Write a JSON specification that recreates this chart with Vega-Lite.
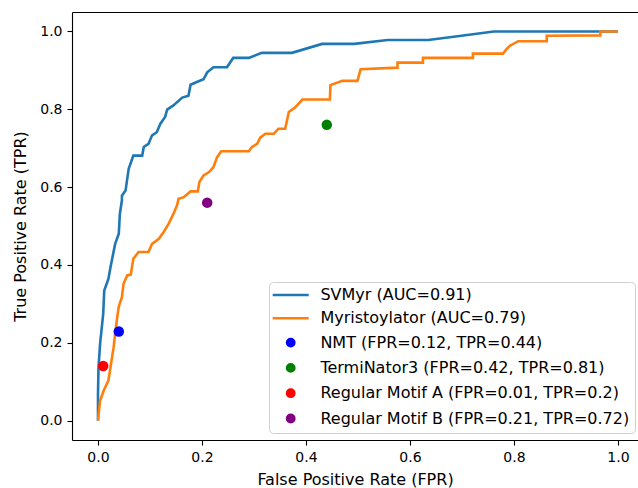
{
  "$schema": "https://vega.github.io/schema/vega-lite/v6.json",
  "width": 566,
  "height": 428,
  "autosize": {"type": "none"},
  "padding": {"left": 72, "top": 12, "right": 0, "bottom": 48},
  "background": "white",
  "datasets": {
    "curves": [
      {"label": "SVMyr (AUC=0.91)", "i": 0, "fpr": 0.0, "tpr": 0.0},
      {"label": "SVMyr (AUC=0.91)", "i": 1, "fpr": 0.0, "tpr": 0.069},
      {"label": "SVMyr (AUC=0.91)", "i": 2, "fpr": 0.001, "tpr": 0.137},
      {"label": "SVMyr (AUC=0.91)", "i": 3, "fpr": 0.004, "tpr": 0.197},
      {"label": "SVMyr (AUC=0.91)", "i": 4, "fpr": 0.010, "tpr": 0.274},
      {"label": "SVMyr (AUC=0.91)", "i": 5, "fpr": 0.012, "tpr": 0.334},
      {"label": "SVMyr (AUC=0.91)", "i": 6, "fpr": 0.020, "tpr": 0.364},
      {"label": "SVMyr (AUC=0.91)", "i": 7, "fpr": 0.024, "tpr": 0.394},
      {"label": "SVMyr (AUC=0.91)", "i": 8, "fpr": 0.033, "tpr": 0.454},
      {"label": "SVMyr (AUC=0.91)", "i": 9, "fpr": 0.040, "tpr": 0.480},
      {"label": "SVMyr (AUC=0.91)", "i": 10, "fpr": 0.042, "tpr": 0.531},
      {"label": "SVMyr (AUC=0.91)", "i": 11, "fpr": 0.046, "tpr": 0.566},
      {"label": "SVMyr (AUC=0.91)", "i": 12, "fpr": 0.046, "tpr": 0.578},
      {"label": "SVMyr (AUC=0.91)", "i": 13, "fpr": 0.053, "tpr": 0.591},
      {"label": "SVMyr (AUC=0.91)", "i": 14, "fpr": 0.059, "tpr": 0.647},
      {"label": "SVMyr (AUC=0.91)", "i": 15, "fpr": 0.068, "tpr": 0.681},
      {"label": "SVMyr (AUC=0.91)", "i": 16, "fpr": 0.085, "tpr": 0.681},
      {"label": "SVMyr (AUC=0.91)", "i": 17, "fpr": 0.088, "tpr": 0.703},
      {"label": "SVMyr (AUC=0.91)", "i": 18, "fpr": 0.097, "tpr": 0.711},
      {"label": "SVMyr (AUC=0.91)", "i": 19, "fpr": 0.104, "tpr": 0.733},
      {"label": "SVMyr (AUC=0.91)", "i": 20, "fpr": 0.113, "tpr": 0.741},
      {"label": "SVMyr (AUC=0.91)", "i": 21, "fpr": 0.120, "tpr": 0.763},
      {"label": "SVMyr (AUC=0.91)", "i": 22, "fpr": 0.129, "tpr": 0.780},
      {"label": "SVMyr (AUC=0.91)", "i": 23, "fpr": 0.133, "tpr": 0.799},
      {"label": "SVMyr (AUC=0.91)", "i": 24, "fpr": 0.145, "tpr": 0.810},
      {"label": "SVMyr (AUC=0.91)", "i": 25, "fpr": 0.162, "tpr": 0.830},
      {"label": "SVMyr (AUC=0.91)", "i": 26, "fpr": 0.174, "tpr": 0.835},
      {"label": "SVMyr (AUC=0.91)", "i": 27, "fpr": 0.178, "tpr": 0.863},
      {"label": "SVMyr (AUC=0.91)", "i": 28, "fpr": 0.190, "tpr": 0.870},
      {"label": "SVMyr (AUC=0.91)", "i": 29, "fpr": 0.203, "tpr": 0.877},
      {"label": "SVMyr (AUC=0.91)", "i": 30, "fpr": 0.210, "tpr": 0.895},
      {"label": "SVMyr (AUC=0.91)", "i": 31, "fpr": 0.222, "tpr": 0.908},
      {"label": "SVMyr (AUC=0.91)", "i": 32, "fpr": 0.248, "tpr": 0.908},
      {"label": "SVMyr (AUC=0.91)", "i": 33, "fpr": 0.260, "tpr": 0.932},
      {"label": "SVMyr (AUC=0.91)", "i": 34, "fpr": 0.290, "tpr": 0.932},
      {"label": "SVMyr (AUC=0.91)", "i": 35, "fpr": 0.315, "tpr": 0.945},
      {"label": "SVMyr (AUC=0.91)", "i": 36, "fpr": 0.373, "tpr": 0.945},
      {"label": "SVMyr (AUC=0.91)", "i": 37, "fpr": 0.431, "tpr": 0.968},
      {"label": "SVMyr (AUC=0.91)", "i": 38, "fpr": 0.493, "tpr": 0.968},
      {"label": "SVMyr (AUC=0.91)", "i": 39, "fpr": 0.557, "tpr": 0.978},
      {"label": "SVMyr (AUC=0.91)", "i": 40, "fpr": 0.635, "tpr": 0.978},
      {"label": "SVMyr (AUC=0.91)", "i": 41, "fpr": 0.699, "tpr": 0.989},
      {"label": "SVMyr (AUC=0.91)", "i": 42, "fpr": 0.761, "tpr": 1.0},
      {"label": "SVMyr (AUC=0.91)", "i": 43, "fpr": 1.0, "tpr": 1.0},
      {"label": "Myristoylator (AUC=0.79)", "i": 0, "fpr": 0.0, "tpr": 0.0},
      {"label": "Myristoylator (AUC=0.79)", "i": 1, "fpr": 0.004, "tpr": 0.051},
      {"label": "Myristoylator (AUC=0.79)", "i": 2, "fpr": 0.011, "tpr": 0.077},
      {"label": "Myristoylator (AUC=0.79)", "i": 3, "fpr": 0.020, "tpr": 0.103},
      {"label": "Myristoylator (AUC=0.79)", "i": 4, "fpr": 0.024, "tpr": 0.137},
      {"label": "Myristoylator (AUC=0.79)", "i": 5, "fpr": 0.030, "tpr": 0.188},
      {"label": "Myristoylator (AUC=0.79)", "i": 6, "fpr": 0.033, "tpr": 0.223},
      {"label": "Myristoylator (AUC=0.79)", "i": 7, "fpr": 0.037, "tpr": 0.266},
      {"label": "Myristoylator (AUC=0.79)", "i": 8, "fpr": 0.040, "tpr": 0.293},
      {"label": "Myristoylator (AUC=0.79)", "i": 9, "fpr": 0.046, "tpr": 0.317},
      {"label": "Myristoylator (AUC=0.79)", "i": 10, "fpr": 0.049, "tpr": 0.351},
      {"label": "Myristoylator (AUC=0.79)", "i": 11, "fpr": 0.056, "tpr": 0.373},
      {"label": "Myristoylator (AUC=0.79)", "i": 12, "fpr": 0.063, "tpr": 0.375},
      {"label": "Myristoylator (AUC=0.79)", "i": 13, "fpr": 0.068, "tpr": 0.416},
      {"label": "Myristoylator (AUC=0.79)", "i": 14, "fpr": 0.078, "tpr": 0.433},
      {"label": "Myristoylator (AUC=0.79)", "i": 15, "fpr": 0.097, "tpr": 0.433},
      {"label": "Myristoylator (AUC=0.79)", "i": 16, "fpr": 0.104, "tpr": 0.454},
      {"label": "Myristoylator (AUC=0.79)", "i": 17, "fpr": 0.117, "tpr": 0.467},
      {"label": "Myristoylator (AUC=0.79)", "i": 18, "fpr": 0.126, "tpr": 0.484},
      {"label": "Myristoylator (AUC=0.79)", "i": 19, "fpr": 0.136, "tpr": 0.506},
      {"label": "Myristoylator (AUC=0.79)", "i": 20, "fpr": 0.145, "tpr": 0.531},
      {"label": "Myristoylator (AUC=0.79)", "i": 21, "fpr": 0.152, "tpr": 0.553},
      {"label": "Myristoylator (AUC=0.79)", "i": 22, "fpr": 0.155, "tpr": 0.570},
      {"label": "Myristoylator (AUC=0.79)", "i": 23, "fpr": 0.165, "tpr": 0.574},
      {"label": "Myristoylator (AUC=0.79)", "i": 24, "fpr": 0.171, "tpr": 0.581},
      {"label": "Myristoylator (AUC=0.79)", "i": 25, "fpr": 0.178, "tpr": 0.589},
      {"label": "Myristoylator (AUC=0.79)", "i": 26, "fpr": 0.192, "tpr": 0.589},
      {"label": "Myristoylator (AUC=0.79)", "i": 27, "fpr": 0.195, "tpr": 0.613},
      {"label": "Myristoylator (AUC=0.79)", "i": 28, "fpr": 0.203, "tpr": 0.630},
      {"label": "Myristoylator (AUC=0.79)", "i": 29, "fpr": 0.213, "tpr": 0.638},
      {"label": "Myristoylator (AUC=0.79)", "i": 30, "fpr": 0.222, "tpr": 0.651},
      {"label": "Myristoylator (AUC=0.79)", "i": 31, "fpr": 0.229, "tpr": 0.677},
      {"label": "Myristoylator (AUC=0.79)", "i": 32, "fpr": 0.237, "tpr": 0.692},
      {"label": "Myristoylator (AUC=0.79)", "i": 33, "fpr": 0.290, "tpr": 0.692},
      {"label": "Myristoylator (AUC=0.79)", "i": 34, "fpr": 0.296, "tpr": 0.703},
      {"label": "Myristoylator (AUC=0.79)", "i": 35, "fpr": 0.306, "tpr": 0.711},
      {"label": "Myristoylator (AUC=0.79)", "i": 36, "fpr": 0.312, "tpr": 0.727},
      {"label": "Myristoylator (AUC=0.79)", "i": 37, "fpr": 0.322, "tpr": 0.737},
      {"label": "Myristoylator (AUC=0.79)", "i": 38, "fpr": 0.338, "tpr": 0.737},
      {"label": "Myristoylator (AUC=0.79)", "i": 39, "fpr": 0.347, "tpr": 0.750},
      {"label": "Myristoylator (AUC=0.79)", "i": 40, "fpr": 0.360, "tpr": 0.750},
      {"label": "Myristoylator (AUC=0.79)", "i": 41, "fpr": 0.367, "tpr": 0.793},
      {"label": "Myristoylator (AUC=0.79)", "i": 42, "fpr": 0.380, "tpr": 0.806},
      {"label": "Myristoylator (AUC=0.79)", "i": 43, "fpr": 0.393, "tpr": 0.825},
      {"label": "Myristoylator (AUC=0.79)", "i": 44, "fpr": 0.446, "tpr": 0.825},
      {"label": "Myristoylator (AUC=0.79)", "i": 45, "fpr": 0.447, "tpr": 0.862},
      {"label": "Myristoylator (AUC=0.79)", "i": 46, "fpr": 0.470, "tpr": 0.873},
      {"label": "Myristoylator (AUC=0.79)", "i": 47, "fpr": 0.499, "tpr": 0.873},
      {"label": "Myristoylator (AUC=0.79)", "i": 48, "fpr": 0.505, "tpr": 0.903},
      {"label": "Myristoylator (AUC=0.79)", "i": 49, "fpr": 0.576, "tpr": 0.907},
      {"label": "Myristoylator (AUC=0.79)", "i": 50, "fpr": 0.576, "tpr": 0.920},
      {"label": "Myristoylator (AUC=0.79)", "i": 51, "fpr": 0.625, "tpr": 0.920},
      {"label": "Myristoylator (AUC=0.79)", "i": 52, "fpr": 0.625, "tpr": 0.932},
      {"label": "Myristoylator (AUC=0.79)", "i": 53, "fpr": 0.721, "tpr": 0.932},
      {"label": "Myristoylator (AUC=0.79)", "i": 54, "fpr": 0.721, "tpr": 0.943},
      {"label": "Myristoylator (AUC=0.79)", "i": 55, "fpr": 0.779, "tpr": 0.943},
      {"label": "Myristoylator (AUC=0.79)", "i": 56, "fpr": 0.786, "tpr": 0.955},
      {"label": "Myristoylator (AUC=0.79)", "i": 57, "fpr": 0.792, "tpr": 0.963},
      {"label": "Myristoylator (AUC=0.79)", "i": 58, "fpr": 0.808, "tpr": 0.975},
      {"label": "Myristoylator (AUC=0.79)", "i": 59, "fpr": 0.863, "tpr": 0.975},
      {"label": "Myristoylator (AUC=0.79)", "i": 60, "fpr": 0.863, "tpr": 0.989},
      {"label": "Myristoylator (AUC=0.79)", "i": 61, "fpr": 0.966, "tpr": 0.990},
      {"label": "Myristoylator (AUC=0.79)", "i": 62, "fpr": 0.966, "tpr": 1.0},
      {"label": "Myristoylator (AUC=0.79)", "i": 63, "fpr": 1.0, "tpr": 1.0}
    ],
    "dots": [
      {"label": "NMT (FPR=0.12, TPR=0.44)", "fpr": 0.040, "tpr": 0.229},
      {"label": "TermiNator3 (FPR=0.42, TPR=0.81)", "fpr": 0.440, "tpr": 0.760},
      {"label": "Regular Motif A (FPR=0.01, TPR=0.2)", "fpr": 0.010, "tpr": 0.140},
      {"label": "Regular Motif B (FPR=0.21, TPR=0.72)", "fpr": 0.210, "tpr": 0.560}
    ]
  },
  "layer": [
    {
      "data": {"name": "curves"},
      "transform": [{"filter": "datum.label === 'SVMyr (AUC=0.91)'"}],
      "mark": {"type": "line", "strokeWidth": 2.6},
      "encoding": {
        "x": {"field": "fpr", "type": "quantitative", "scale": {"domain": [-0.05, 1.0385], "nice": false, "zero": false},
              "axis": {"orient": "bottom", "values": [0, 0.2, 0.4, 0.6, 0.8, 1.0], "format": ".1f", "title": "False Positive Rate (FPR)", "titlePadding": 7}},
        "y": {"field": "tpr", "type": "quantitative", "scale": {"domain": [-0.05, 1.05], "nice": false, "zero": false},
              "axis": {"orient": "left", "values": [0, 0.2, 0.4, 0.6, 0.8, 1.0], "format": ".1f", "title": "True Positive Rate (TPR)", "titlePadding": 11}},
        "color": {"field": "label", "type": "nominal", "title": null,
          "scale": {"domain": ["SVMyr (AUC=0.91)", "Myristoylator (AUC=0.79)", "NMT (FPR=0.12, TPR=0.44)", "TermiNator3 (FPR=0.42, TPR=0.81)", "Regular Motif A (FPR=0.01, TPR=0.2)", "Regular Motif B (FPR=0.21, TPR=0.72)"],
                    "range": ["#1f77b4", "#ff7f0e", "#0000ff", "#008000", "#ff0000", "#800080"]},
          "legend": {
            "encoding": {
              "symbols": {
                "shape": {"value": {"expr": "indexof(['SVMyr (AUC=0.91)','Myristoylator (AUC=0.79)'], datum.value) >= 0 ? 'stroke' : 'circle'"}},
                "size": {"value": {"expr": "indexof(['SVMyr (AUC=0.91)','Myristoylator (AUC=0.79)'], datum.value) >= 0 ? 1296 : 52"}},
                "fill": {"value": {"expr": "scale('color', datum.value)"}},
                "stroke": {"value": {"expr": "scale('color', datum.value)"}},
                "strokeWidth": {"value": 2.6},
                "opacity": {"value": 1}
              }
            }
          }
        },
        "order": {"field": "i", "type": "quantitative"}
      }
    },
    {
      "data": {"name": "curves"},
      "transform": [{"filter": "datum.label === 'Myristoylator (AUC=0.79)'"}],
      "mark": {"type": "line", "strokeWidth": 2.6},
      "encoding": {
        "x": {"field": "fpr", "type": "quantitative", "scale": {"domain": [-0.05, 1.0385], "nice": false, "zero": false},
              "axis": {"orient": "top", "labels": false, "ticks": false, "title": null, "domain": true, "grid": false}},
        "y": {"field": "tpr", "type": "quantitative", "scale": {"domain": [-0.05, 1.05], "nice": false, "zero": false}, "axis": null},
        "color": {"field": "label", "type": "nominal", "title": null},
        "order": {"field": "i", "type": "quantitative"}
      }
    },
    {
      "data": {"name": "dots"},
      "mark": {"type": "point", "filled": true, "opacity": 1, "size": 110, "strokeWidth": 0},
      "encoding": {
        "x": {"field": "fpr", "type": "quantitative", "scale": {"domain": [-0.05, 1.0385], "nice": false, "zero": false}, "axis": null},
        "y": {"field": "tpr", "type": "quantitative", "scale": {"domain": [-0.05, 1.05], "nice": false, "zero": false}, "axis": null},
        "color": {"field": "label", "type": "nominal", "title": null}
      }
    }
  ],
  "resolve": {"axis": {"x": "independent", "y": "independent"}},
  "config": {
    "view": {"stroke": null},
    "font": "DejaVu Sans",
    "axis": {
      "labelFont": "DejaVu Sans", "labelFontSize": 14, "labelColor": "#000",
      "titleFont": "DejaVu Sans", "titleFontSize": 16, "titleFontWeight": "normal", "titleColor": "#000",
      "domainColor": "#000", "domainWidth": 1.1, "tickColor": "#000", "tickSize": 5, "tickWidth": 1.1,
      "grid": false, "labelPadding": 5, "labelFlush": false, "labelOverlap": false
    },
    "legend": {
      "orient": "none", "legendX": 197, "legendY": 270,
      "labelFont": "DejaVu Sans", "labelFontSize": 16, "labelColor": "#000", "labelLimit": 0,
      "symbolSize": 1296, "symbolStrokeWidth": 2.6, "rowPadding": 7.3,
      "padding": 5, "strokeColor": "#d0d0d0", "fillColor": "#ffffff", "cornerRadius": 4,
      "labelOffset": 21.7, "symbolOffset": 8.7
    }
  }
}
